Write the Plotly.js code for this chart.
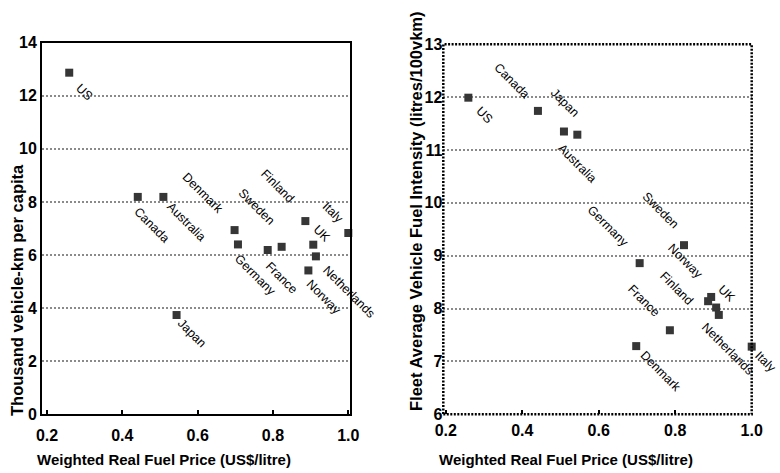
<!DOCTYPE html>
<html>
<head>
<meta charset="utf-8">
<script src="https://cdn.plot.ly/plotly-3.0.1.min.js"></script>
<style>html,body{margin:0;padding:0;background:#fff}#chart{width:780px;height:473px}</style>
</head>
<body>
<div id="chart"></div>
<script>
// ---- data ----
const countries = ['US','Canada','Australia','Japan','Denmark','Germany','France','Sweden','Finland','Norway','UK','Netherlands','Italy'];
const fuelPrice = [0.259,0.441,0.509,0.544,0.698,0.707,0.786,0.823,0.886,0.894,0.907,0.914,1.0];
const vkmPerCapita = [12.87,8.19,8.19,3.74,6.94,6.40,6.19,6.31,7.28,5.42,6.39,5.95,6.83];
const fuelIntensity = [11.99,11.74,11.35,11.29,7.29,8.86,7.59,9.20,8.14,8.22,8.02,7.88,7.28];
const xTickVals = [0.2,0.4,0.6,0.8,1.0];
const xTickText = ['0.2','0.4','0.6','0.8','1.0'];
const yTickValsLeft = [0,2,4,6,8,10,12,14];
const yTickValsRight = [6,7,8,9,10,11,12,13];

// ---- label placement (pixel offsets from each point: [dx, dy-up]) ----
const leftLabelOffset = {US:[15,-19],Canada:[14,-28],Australia:[23,-25],Japan:[15,-18],Denmark:[-32,37],Germany:[17,-31],France:[14,-28],Sweden:[-25,40],Finland:[-28,35],Norway:[15,-27],UK:[9,11],Netherlands:[33,-36],Italy:[-15,20]};
const rightLabelOffset = {US:[16,-17],Canada:[-26,30],Australia:[14,-32],Japan:[-12,32],Denmark:[24,-25],Germany:[-32,37],France:[-26,29],Sweden:[-24,35],Finland:[-32,13],Norway:[-26,36],UK:[11,14],Netherlands:[9,-34],Italy:[14,-15]};

const W = 780, H = 473;
const FONT = 'Arial, Liberation Sans, sans-serif';
const bold = s => '<b>' + s + '</b>';
const markerStyle = {symbol:'square', size:8, color:'#363636'};

const traces = [
  {type:'scatter', mode:'markers', x:fuelPrice, y:vkmPerCapita, xaxis:'x', yaxis:'y', marker:markerStyle, cliponaxis:false, hoverinfo:'skip'},
  {type:'scatter', mode:'markers', x:fuelPrice, y:fuelIntensity, xaxis:'x2', yaxis:'y2', marker:markerStyle, cliponaxis:false, hoverinfo:'skip'}
];

const labelFont = {family:FONT, size:12.5, color:'#000'};
const annotations = [];
countries.forEach((c,i)=>{
  annotations.push({x:fuelPrice[i], y:vkmPerCapita[i], xref:'x', yref:'y', text:c, showarrow:false, textangle:45,
    xanchor:'center', yanchor:'middle', xshift:leftLabelOffset[c][0], yshift:leftLabelOffset[c][1], font:labelFont});
  annotations.push({x:fuelPrice[i], y:fuelIntensity[i], xref:'x2', yref:'y2', text:c, showarrow:false, textangle:45,
    xanchor:'center', yanchor:'middle', xshift:rightLabelOffset[c][0], yshift:rightLabelOffset[c][1], font:labelFont});
});
const titleFontX = {family:FONT, size:15, color:'#000'};
const titleFontY = {family:FONT, size:16.5, color:'#000'};
annotations.push({xref:'paper', yref:'paper', x:164/W, y:1-459/H, text:bold('Weighted Real Fuel Price (US$/litre)'), showarrow:false, xanchor:'center', yanchor:'middle', font:titleFontX});
annotations.push({xref:'paper', yref:'paper', x:566/W, y:1-459/H, text:bold('Weighted Real Fuel Price (US$/litre)'), showarrow:false, xanchor:'center', yanchor:'middle', font:titleFontX});
annotations.push({xref:'paper', yref:'paper', x:17/W, y:1-290/H, text:bold('Thousand vehicle-km per capita'), showarrow:false, textangle:-90, xanchor:'center', yanchor:'middle', font:titleFontY});
annotations.push({xref:'paper', yref:'paper', x:416/W, y:1-211/H, text:bold('Fleet Average Vehicle Fuel Intensity (litres/100vkm)'), showarrow:false, textangle:-90, xanchor:'center', yanchor:'middle', font:titleFontY});

const tickFont = {family:FONT, size:16, color:'#000'};
const gridStyle = {showgrid:true, gridcolor:'#8a8a8a', gridwidth:2, griddash:'2px,2px'};

const layout = {
  width:W, height:H, margin:{l:0,r:0,t:0,b:0},
  paper_bgcolor:'#fff', plot_bgcolor:'#fff', showlegend:false,
  xaxis:{domain:[42/W, 350/W], range:[0.1867,1.0045], tickmode:'array', tickvals:xTickVals, ticktext:xTickText.map(bold), tickfont:tickFont,
    showline:true, linecolor:'#000', linewidth:2, mirror:true, ticks:'inside', ticklen:4, tickwidth:2, tickcolor:'#000',
    showgrid:false, zeroline:false, anchor:'y', ticklabelstandoff:5},
  yaxis:{domain:[1-414.3/H, 1-42.7/H], range:[0,14], tickmode:'array', tickvals:yTickValsLeft, ticktext:yTickValsLeft.map(v=>bold(String(v))), tickfont:tickFont,
    showline:true, linecolor:'#000', linewidth:2, mirror:true, ticks:'', zeroline:false, anchor:'x', ticklabelstandoff:0, ...gridStyle},
  xaxis2:{domain:[443.3/W, 751.7/W], range:[0.1935,1.0], tickmode:'array', tickvals:xTickVals, ticktext:xTickText.map(bold), tickfont:tickFont,
    showline:false, ticks:'inside', ticklen:4, tickwidth:2, tickcolor:'#000',
    showgrid:false, zeroline:false, anchor:'y2', ticklabelstandoff:5},
  yaxis2:{domain:[1-414.3/H, 1-44.3/H], range:[6,13], tickmode:'array', tickvals:yTickValsRight, ticktext:yTickValsRight.map(v=>bold(String(v))), tickfont:tickFont,
    showline:false, ticks:'', zeroline:false, anchor:'x2', ticklabelstandoff:0, ...gridStyle},
  shapes:[
    {type:'rect', xref:'x2 domain', yref:'y2 domain', x0:0, x1:1, y0:0, y1:1, line:{color:'#000', width:2.5, dash:'2px,1.5px'}, layer:'above'}
  ],
  annotations:annotations
};

Plotly.newPlot('chart', traces, layout, {staticPlot:true});
</script>
</body>
</html>
